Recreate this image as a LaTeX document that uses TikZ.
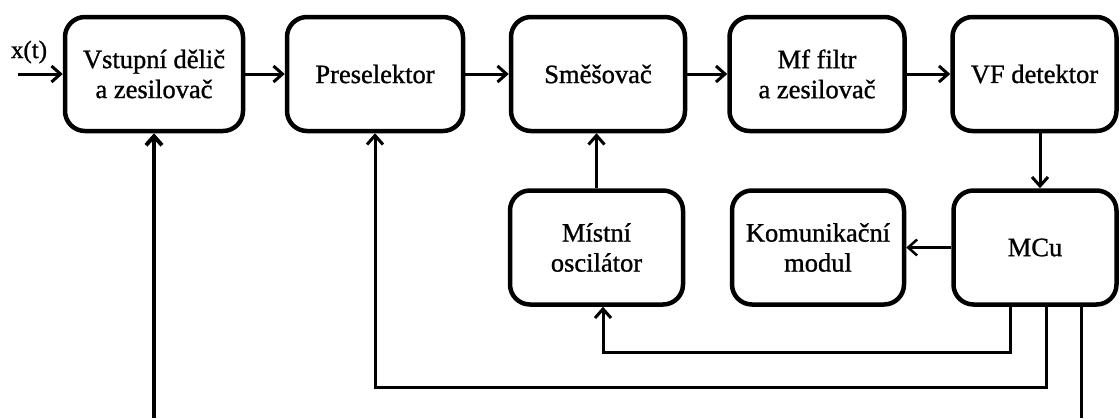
\documentclass[tikz,border=0pt]{standalone}
\usepackage{fontspec}
\setmainfont{Liberation Serif}
\newfontfamily\blokfont[RawFeature={embolden=1.0}]{Liberation Serif}
\usetikzlibrary{arrows.meta,calc}
\begin{document}
\begin{tikzpicture}[x=1pt,y=-1pt,
  blok/.style={draw,line width=4.5pt,rounded corners=20pt,minimum height=114pt,
    inner sep=0pt,align=center,font=\blokfont\fontsize{26.5}{30}\selectfont},
  conn/.style={line width=3pt,-{Straight Barb[length=9pt,width=16pt]}},
  wire/.style={line width=3pt}]
\useasboundingbox (0,0) rectangle (1120,418);

% upper chain of blocks
\node[blok,minimum width=178pt] (b1) at (154,74) {Vstupní dělič\\a zesilovač};
\node[blok,minimum width=176pt] (b2) at (375,74) {Preselektor};
\node[blok,minimum width=174pt] (b3) at (598,74) {Směšovač};
\node[blok,minimum width=175pt] (b4) at (817,74) {Mf filtr\\a zesilovač};
\node[blok,minimum width=164pt] (b5) at (1034.5,74) {VF detektor};

% lower row
\node[blok,minimum width=173pt] (m)   at (596.5,247.5) {Místní\\oscilátor};
\node[blok,minimum width=172pt] (k)   at (818,247.5) {Komunikační\\modul};
\node[blok,minimum width=163pt] (mcu) at (1035,247.5) {MCu};

% input and open ends at the lower edge
\coordinate (xin) at (18,74);
\coordinate (inb) at (154,418);
\coordinate (outb) at (1081,418);
\node[font=\blokfont\fontsize{25}{25}\selectfont,inner sep=0pt] (xt) at (29,52) {x(t)};

% signal path
\draw[conn] (xin) -- (b1.west);
\draw[conn] (b1.east) -- (b2.west);
\draw[conn] (b2.east) -- (b3.west);
\draw[conn] (b3.east) -- (b4.west);
\draw[conn] (b4.east) -- (b5.west);
\draw[conn] (m.north) -- (m.north |- b3.south);
\draw[conn] (b5.south -| 1040,0) -- (mcu.north -| 1040,0);
\draw[conn,line width=2.5pt] (mcu.west) -- (k.east);

% control lines from the MCu
\draw[conn] (mcu.south -| 1010,0) |- (603,352) -- (m.south -| 603,0);
\draw[conn] (mcu.south -| 1046,0) |- (375,387) -- (b2.south);
\draw[wire] (mcu.south -| 1081,0) -- (outb);
\draw[conn,line width=4pt] (inb) -- (b1.south);
\end{tikzpicture}
\end{document}
